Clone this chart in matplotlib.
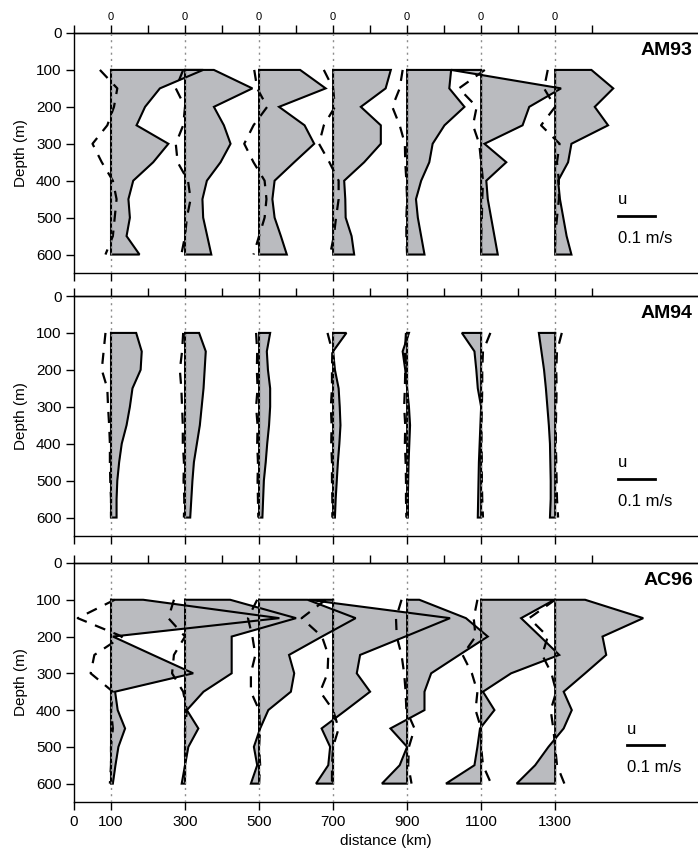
import numpy as np
import matplotlib
matplotlib.use("Agg")
import matplotlib.pyplot as plt

plt.rcParams['font.family'] = ['Liberation Sans', 'DejaVu Sans']

# -------------------------------
# Data (velocities in m/s)
# -------------------------------
stations = [100, 300, 500, 700, 900, 1100, 1300]
depths = [100, 150, 200, 250, 300, 350, 400, 450, 500, 550, 600]
cruises = ["AM93", "AM94", "AC96"]

# u component (filled profiles), one row per station
am93_u = [
    [0.249, 0.132, 0.092, 0.069, 0.155, 0.114, 0.060, 0.047, 0.051, 0.042, 0.077],
    [0.078, 0.182, 0.078, 0.105, 0.123, 0.096, 0.059, 0.047, 0.049, 0.060, 0.071],
    [0.111, 0.180, 0.054, 0.123, 0.149, 0.095, 0.042, 0.036, 0.042, 0.059, 0.075],
    [0.156, 0.142, 0.075, 0.129, 0.129, 0.084, 0.030, 0.033, 0.034, 0.050, 0.057],
    [0.119, 0.114, 0.155, 0.101, 0.069, 0.060, 0.038, 0.024, 0.029, 0.038, 0.047],
    [-0.081, 0.216, 0.130, 0.112, 0.009, 0.068, 0.014, 0.018, 0.027, 0.036, 0.045],
    [0.098, 0.157, 0.107, 0.143, 0.044, 0.035, 0.008, 0.013, 0.022, 0.031, 0.044],
]
am94_u = [
    [0.068, 0.083, 0.080, 0.058, 0.051, 0.042, 0.029, 0.022, 0.017, 0.015, 0.015],
    [0.038, 0.056, 0.053, 0.050, 0.045, 0.040, 0.032, 0.024, 0.020, 0.017, 0.014],
    [0.030, 0.021, 0.024, 0.030, 0.030, 0.027, 0.022, 0.018, 0.013, 0.011, 0.009],
    [0.036, 0.000, 0.005, 0.015, 0.018, 0.020, 0.017, 0.013, 0.010, 0.007, 0.005],
    [0.005, -0.012, -0.005, 0.000, 0.005, 0.008, 0.006, 0.004, 0.003, 0.002, 0.002],
    [-0.052, -0.018, -0.013, -0.009, 0.000, -0.002, -0.004, -0.006, -0.007, -0.008, -0.009],
    [-0.044, -0.037, -0.030, -0.025, -0.021, -0.017, -0.014, -0.013, -0.012, -0.012, -0.014],
]
ac96_u = [
    [0.087, 0.455, 0.005, 0.113, 0.222, 0.011, 0.018, 0.038, 0.020, 0.012, 0.005],
    [0.122, 0.300, 0.126, 0.126, 0.126, 0.050, 0.005, 0.036, 0.009, 0.000, -0.009],
    [0.131, 0.261, 0.170, 0.081, 0.095, 0.086, 0.025, 0.003, -0.014, -0.005, -0.022],
    [-0.067, 0.316, 0.195, 0.073, 0.064, 0.100, 0.035, -0.031, -0.008, -0.013, -0.046],
    [0.033, 0.159, 0.218, 0.141, 0.065, 0.047, 0.047, -0.045, 0.000, -0.020, -0.068],
    [0.198, 0.108, 0.160, 0.211, 0.081, 0.005, 0.036, -0.003, -0.010, -0.018, -0.095],
    [0.081, 0.238, 0.128, 0.138, 0.081, 0.023, 0.045, 0.023, -0.018, -0.054, -0.104],
]

# v component (dashed lines)
am93_v = [
    [-0.030, 0.017, 0.008, -0.010, -0.050, -0.025, 0.005, 0.015, 0.010, 0.005, -0.015],
    [-0.005, -0.025, 0.000, -0.005, -0.025, -0.020, 0.008, 0.015, 0.005, 0.000, -0.010],
    [-0.013, -0.005, 0.022, -0.015, -0.040, -0.015, 0.015, 0.020, 0.015, 0.000, -0.015],
    [-0.025, 0.000, 0.005, -0.025, -0.038, -0.010, 0.015, 0.015, 0.008, 0.002, -0.008],
    [-0.012, -0.020, -0.040, -0.020, -0.006, -0.005, -0.002, 0.000, -0.002, -0.002, 0.000],
    [0.010, -0.060, -0.012, -0.022, -0.005, 0.000, 0.005, 0.003, 0.002, 0.000, 0.000],
    [-0.020, -0.030, 0.000, -0.038, 0.012, 0.005, 0.010, 0.010, 0.005, 0.000, 0.000],
]
am94_v = [
    [-0.015, -0.020, -0.025, -0.010, -0.008, -0.005, -0.003, -0.003, -0.002, 0.000, 0.000],
    [-0.005, -0.008, -0.014, -0.010, -0.008, -0.006, -0.006, -0.003, -0.004, -0.002, -0.003],
    [-0.008, -0.005, -0.006, -0.004, -0.008, -0.004, -0.005, -0.003, -0.004, -0.003, -0.002],
    [-0.015, -0.002, -0.003, -0.003, -0.006, -0.004, -0.005, -0.003, -0.003, -0.002, -0.002],
    [-0.003, -0.006, -0.005, -0.006, -0.008, -0.005, -0.006, -0.004, -0.003, -0.003, -0.002],
    [0.025, 0.005, 0.003, 0.003, 0.002, 0.001, 0.001, 0.002, 0.002, 0.003, 0.005],
    [0.018, 0.005, 0.003, 0.004, 0.003, 0.002, 0.002, 0.003, 0.004, 0.005, 0.008],
]
ac96_v = [
    [0.010, -0.090, 0.030, -0.045, -0.055, 0.005, 0.000, 0.005, 0.000, 0.000, -0.003],
    [-0.030, -0.045, 0.000, -0.030, -0.035, -0.005, 0.005, 0.000, 0.000, 0.000, 0.000],
    [-0.005, -0.030, -0.018, -0.010, -0.022, -0.022, 0.000, 0.003, 0.000, 0.003, 0.000],
    [-0.020, -0.085, -0.030, -0.013, -0.015, -0.035, 0.000, 0.015, 0.000, -0.003, -0.003],
    [-0.015, -0.030, -0.028, -0.015, -0.008, -0.004, -0.002, 0.020, 0.005, 0.003, 0.012],
    [-0.010, -0.020, -0.015, -0.050, -0.025, -0.010, -0.015, 0.000, 0.000, 0.005, 0.027],
    [0.000, -0.070, -0.020, -0.035, -0.010, 0.003, -0.012, -0.005, 0.000, 0.005, 0.025],
]

u_sets = [am93_u, am94_u, ac96_u]
v_sets = [am93_v, am94_v, ac96_v]

scale_speed = 0.1   # m/s shown by the scale bar
km_per_ms = 1000    # 0.1 m/s drawn as 100 km

# -------------------------------
# Figure
# -------------------------------
fig = plt.figure(figsize=(6.98, 8.49), dpi=100)
W, H = 698, 849
panel_px = [(33, 273), (296, 536), (563, 802)]   # top/bottom in pixels
left_px = 74

fill_col = "#babbbf"
d = np.array(depths)

for k, (top, bot) in enumerate(panel_px):
    ax = fig.add_axes([left_px / W, 1 - bot / H, 1 - left_px / W, (bot - top) / H])
    ax.set_xlim(0, 1686)
    ax.set_ylim(650, 0)

    for i, x0 in enumerate(stations):
        u = np.array(u_sets[k][i]) * km_per_ms
        v = np.array(v_sets[k][i]) * km_per_ms
        ax.fill_betweenx(d, x0, x0 + u, color=fill_col, lw=0, zorder=2)
        xs = np.concatenate([[x0], x0 + u, [x0]])
        ys = np.concatenate([[d[0]], d, [d[-1]]])
        ax.plot(np.append(xs, x0), np.append(ys, d[0]), color="black", lw=1.5,
                solid_joinstyle="miter", zorder=3)
        ax.plot(x0 + v, d, color="black", lw=1.6, ls=(0, (5, 4)), zorder=4)
        ax.axvline(x0, color="#8c8c8c", lw=1.0, ls=(0, (1.5, 3)), zorder=5)

    # panel name
    ax.text(1672, 48, cruises[k], ha="right", va="center",
            fontsize=14, fontweight="bold")

    # scale bar
    sx = 1470 if k < 2 else 1495
    ax.text(sx, 452, "u", ha="left", va="center", fontsize=12)
    ax.plot([sx, sx + scale_speed * km_per_ms], [496, 496], color="black", lw=2)
    ax.text(sx, 556, "0.1 m/s", ha="left", va="center", fontsize=12)

    # axes styling
    ax.spines["right"].set_visible(False)
    for s in ["left", "top", "bottom"]:
        ax.spines[s].set_linewidth(1.0)
    ax.set_yticks([0, 100, 200, 300, 400, 500, 600])
    ax.tick_params(axis="y", direction="out", length=6, width=1, labelsize=11, pad=3)
    ax.set_ylabel("Depth (m)", fontsize=11, labelpad=6)

    ax.set_xticks([0] + stations)
    ax.tick_params(axis="x", direction="out", length=6, width=1, labelsize=11, pad=3)
    if k == 2:
        ax.set_xticklabels(["0"] + [str(s) for s in stations])
        ax.set_xlabel("distance (km)", fontsize=11, labelpad=4)
    else:
        ax.set_xticklabels([])

    top_ax = ax.secondary_xaxis("top")
    top_ax.set_xticks(np.arange(0, 1500, 100))
    top_ax.tick_params(direction="out", length=6, width=1, labelsize=8, pad=2)
    if k == 0:
        top_ax.set_xticklabels(["0" if t in stations else "" for t in range(0, 1500, 100)])
    else:
        top_ax.set_xticklabels([])
    top_ax.spines["top"].set_linewidth(1.0)

fig.savefig("out.png", dpi=100)
